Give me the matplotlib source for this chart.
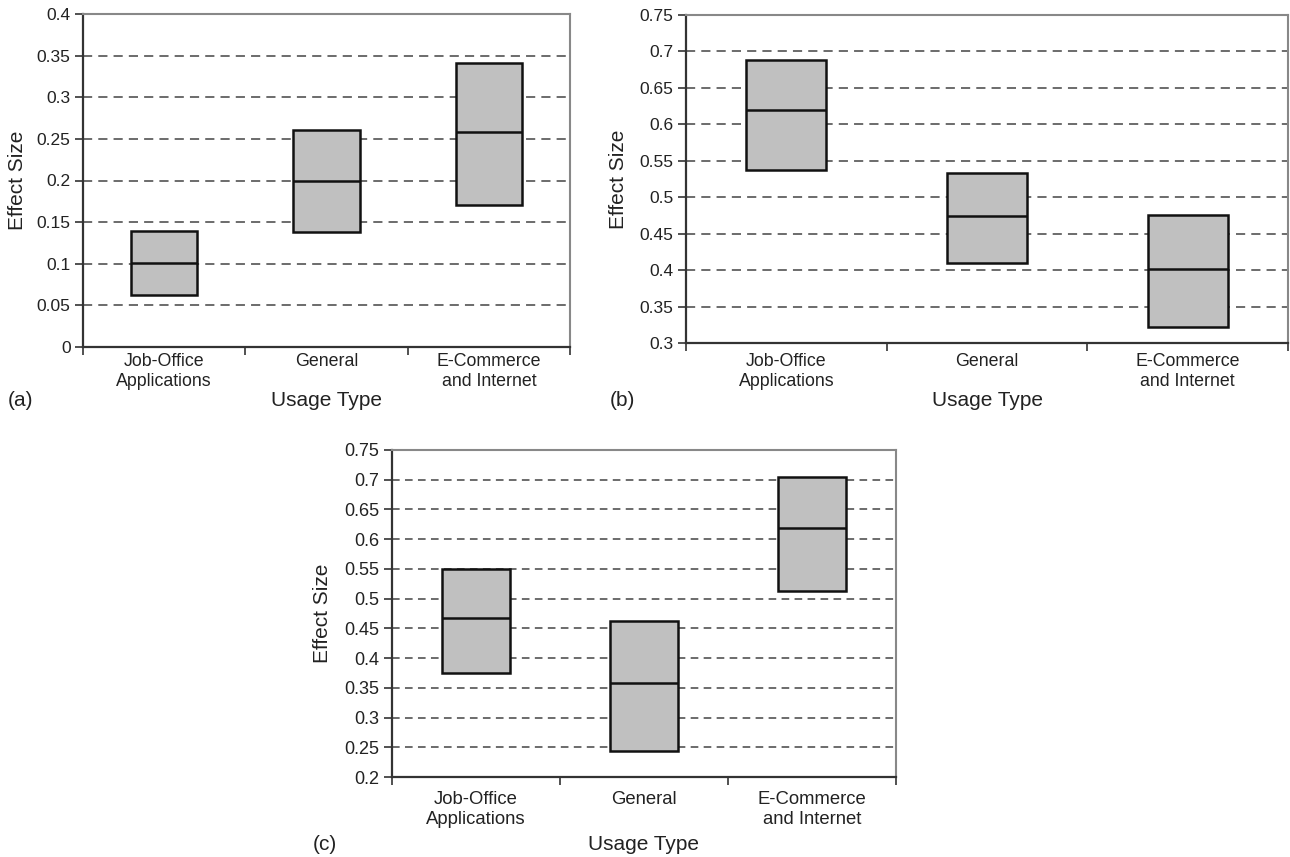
import matplotlib
matplotlib.use("Agg")
import matplotlib.pyplot as plt
from matplotlib.ticker import FixedLocator, NullFormatter

plt.rcParams['font.family'] = ['Liberation Sans', 'DejaVu Sans']

categories = ["Job-Office\nApplications", "General", "E-Commerce\nand Internet"]

# panel (a)
a_low = [0.063, 0.138, 0.171]
a_mid = [0.101, 0.200, 0.258]
a_high = [0.139, 0.261, 0.341]
a_ticks = [0, 0.05, 0.1, 0.15, 0.2, 0.25, 0.3, 0.35, 0.4]
a_ticklabels = ["0", "0.05", "0.1", "0.15", "0.2", "0.25", "0.3", "0.35", "0.4"]

# panel (b)
b_low = [0.538, 0.410, 0.322]
b_mid = [0.619, 0.474, 0.402]
b_high = [0.688, 0.533, 0.475]
b_ticks = [0.3, 0.35, 0.4, 0.45, 0.5, 0.55, 0.6, 0.65, 0.7, 0.75]
b_ticklabels = ["0.3", "0.35", "0.4", "0.45", "0.5", "0.55", "0.6", "0.65", "0.7", "0.75"]

# panel (c)
c_low = [0.375, 0.243, 0.513]
c_mid = [0.467, 0.358, 0.618]
c_high = [0.550, 0.462, 0.705]
c_ticks = [0.2, 0.25, 0.3, 0.35, 0.4, 0.45, 0.5, 0.55, 0.6, 0.65, 0.7, 0.75]
c_ticklabels = ["0.2", "0.25", "0.3", "0.35", "0.4", "0.45", "0.5", "0.55", "0.6", "0.65", "0.7", "0.75"]

W, H = 1290, 857
fig = plt.figure(figsize=(W / 100, H / 100), dpi=100)


def draw(box, low, mid, high, ticks, ticklabels, dash, box_w, tick_fs, xpad, xlab_px, ylab_px):
    l, r, t, b = box
    ax = fig.add_axes([l / W, (H - b) / H, (r - l) / W, (b - t) / H])
    x = list(range(len(categories)))
    heights = [h - lo for h, lo in zip(high, low)]
    ax.bar(x, heights, bottom=low, width=box_w, color="#c0c0c0",
           edgecolor="#111111", linewidth=1.8, zorder=3)
    ax.hlines(mid, [i - box_w / 2 for i in x], [i + box_w / 2 for i in x],
              colors="#111111", linewidth=1.8, zorder=4)
    ax.set_xlim(-0.5, len(categories) - 0.5)
    ax.set_ylim(ticks[0], ticks[-1])
    ax.set_yticks(ticks)
    ax.set_yticklabels(ticklabels, fontsize=tick_fs, color="#222222")
    ax.yaxis.grid(True, linestyle=(0, dash), color="#444444", linewidth=1.1, zorder=0)
    ax.set_axisbelow(True)
    # category boundary ticks
    ax.xaxis.set_major_locator(FixedLocator([-0.5, 0.5, 1.5, 2.5]))
    ax.xaxis.set_major_formatter(NullFormatter())
    ax.xaxis.set_minor_locator(FixedLocator(x))
    ax.set_xticklabels(categories, minor=True, fontsize=tick_fs + 0.3, color="#222222",
                       linespacing=1.25)
    ax.tick_params(axis="x", which="major", length=6, width=1.2, color="#333333")
    ax.tick_params(axis="x", which="minor", length=0, pad=xpad)
    ax.tick_params(axis="y", length=6, width=1.2, color="#333333", pad=3)
    for s in ("left", "bottom"):
        ax.spines[s].set_color("#333333")
        ax.spines[s].set_linewidth(1.6)
    for s in ("top", "right"):
        ax.spines[s].set_color("#888888")
        ax.spines[s].set_linewidth(1.5)
    ax.set_ylabel("Effect Size", fontsize=15, color="#222222", va="center")
    ax.yaxis.set_label_coords((ylab_px - l) / (r - l), 0.5)
    ax.set_xlabel("Usage Type", fontsize=15, color="#222222", va="center")
    ax.xaxis.set_label_coords(0.5, -xlab_px / (b - t))
    return ax


axa = draw((83, 570, 14, 347), a_low, a_mid, a_high, a_ticks, a_ticklabels,
           (6, 4), 0.41, 12.5, 4, 53, 17)
axb = draw((686, 1288, 15, 343), b_low, b_mid, b_high, b_ticks, b_ticklabels,
           (6, 4), 0.40, 12.5, 7, 57, 618)
axc = draw((392, 896, 450, 777), c_low, c_mid, c_high, c_ticks, c_ticklabels,
           (5, 3.5), 0.405, 13, 10, 67, 322)

fig.text(8 / W, (H - 401) / H, "(a)", fontsize=15, va="center", ha="left", color="#222222")
fig.text(610 / W, (H - 400) / H, "(b)", fontsize=15, va="center", ha="left", color="#222222")
fig.text(313 / W, (H - 845) / H, "(c)", fontsize=15, va="center", ha="left", color="#222222")

fig.savefig("out.png", dpi=100)
